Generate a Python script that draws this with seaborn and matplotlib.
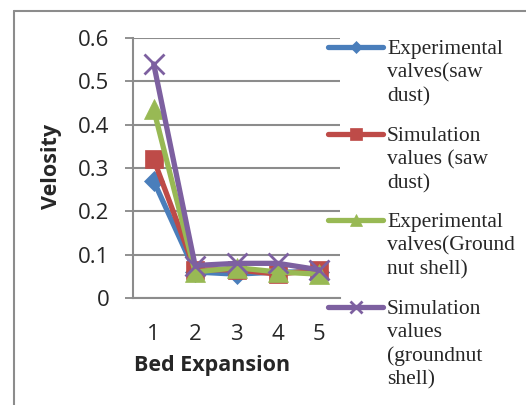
import matplotlib
matplotlib.use("Agg")
import matplotlib.pyplot as plt
import seaborn as sns
import pandas as pd
from matplotlib.lines import Line2D

categories = ["1", "2", "3", "4", "5"]
series_names = [
    "Experimental\nvalves(saw\ndust)",
    "Simulation\nvalues (saw\ndust)",
    "Experimental\nvalves(Ground\nnut shell)",
    "Simulation\nvalues\n(groundnut\nshell)",
]
exp_saw = [0.27, 0.06, 0.055, 0.06, 0.06]
sim_saw = [0.32, 0.065, 0.065, 0.055, 0.065]
exp_gn = [0.435, 0.06, 0.07, 0.06, 0.055]
sim_gn = [0.54, 0.075, 0.08, 0.08, 0.065]
y_ticks = [0, 0.1, 0.2, 0.3, 0.4, 0.5, 0.6]

colors = ["#4A7EBB", "#BE4B48", "#98B954", "#7D60A0"]
markers = ["D", "s", "^", "x"]
msizes = [10, 13, 14, 14]

rows = []
for name, vals in zip(series_names, [exp_saw, sim_saw, exp_gn, sim_gn]):
    for i, v in enumerate(vals):
        rows.append({"series": name, "pos": i, "value": v})
df = pd.DataFrame(rows)

sns.set_style("white")
fig = plt.figure(figsize=(5.26, 4.05), dpi=100)
ax = fig.add_axes([133 / 526, 1 - 298 / 405, 207 / 526, 260 / 405])

for name, c, m, ms in zip(series_names, colors, markers, msizes):
    sub = df[df["series"] == name]
    sns.lineplot(data=sub, x="pos", y="value", color=c, marker=m, markersize=ms,
                 markeredgecolor=c, markeredgewidth=2 if m == "x" else 0.5,
                 linewidth=3.8, ax=ax, legend=False, zorder=3)

ax.set_xlim(-0.5, 4.5)
ax.set_ylim(0, 0.6)
ax.set_yticks(y_ticks)
ax.set_yticklabels(["0", "0.1", "0.2", "0.3", "0.4", "0.5", "0.6"],
                   fontsize=16, family="Open Sans")
ax.set_xticks(range(5))
ax.set_xticklabels(categories, fontsize=16, family="Open Sans")
ax.tick_params(axis="y", length=6, color="#888888", width=1.3, pad=11, left=True)
ax.tick_params(axis="x", length=0, pad=19)
ax.grid(axis="y", color="#8c8c8c", linewidth=1.5)
ax.set_axisbelow(True)
for s in ["top", "right"]:
    ax.spines[s].set_visible(False)
for s in ["left", "bottom"]:
    ax.spines[s].set_color("#8c8c8c")
    ax.spines[s].set_linewidth(1.5)
ax.set_xlabel("")
ax.set_ylabel("")
fig.text(212 / 526, 1 - 366 / 405, "Bed Expansion", ha="center", va="center",
         fontsize=15.5, fontweight="bold", family="Open Sans")
fig.text(52 / 526, 1 - 166 / 405, "Velosity", ha="center", va="center", rotation=90,
         fontsize=15.5, fontweight="bold", family="Open Sans")

# legend drawn manually
ys = [47, 134, 220, 307]
for name, c, m, ms, yy in zip(series_names, colors, markers, msizes, ys):
    yf = 1 - yy / 405
    fig.add_artist(Line2D([328 / 526, 383 / 526], [yf, yf], color=c, linewidth=3.8,
                          transform=fig.transFigure))
    fig.add_artist(Line2D([355.5 / 526], [yf], color=c, marker=m, markersize=ms * 0.65,
                          markeredgecolor=c, markeredgewidth=2 if m == "x" else 0.5,
                          transform=fig.transFigure))
    fig.text(387 / 526, yf + 7 / 405, name, ha="left", va="top", fontsize=15.5,
             family="Liberation Serif", linespacing=1.3)

# outer frame (top and left edges visible)
fig.add_artist(Line2D([14 / 526, 1.0], [1 - 11 / 405, 1 - 11 / 405], color="#8c8c8c",
                      linewidth=1.5, transform=fig.transFigure))
fig.add_artist(Line2D([14 / 526, 14 / 526], [0.0, 1 - 11 / 405], color="#8c8c8c",
                      linewidth=1.5, transform=fig.transFigure))

fig.savefig("out.png", dpi=100)
